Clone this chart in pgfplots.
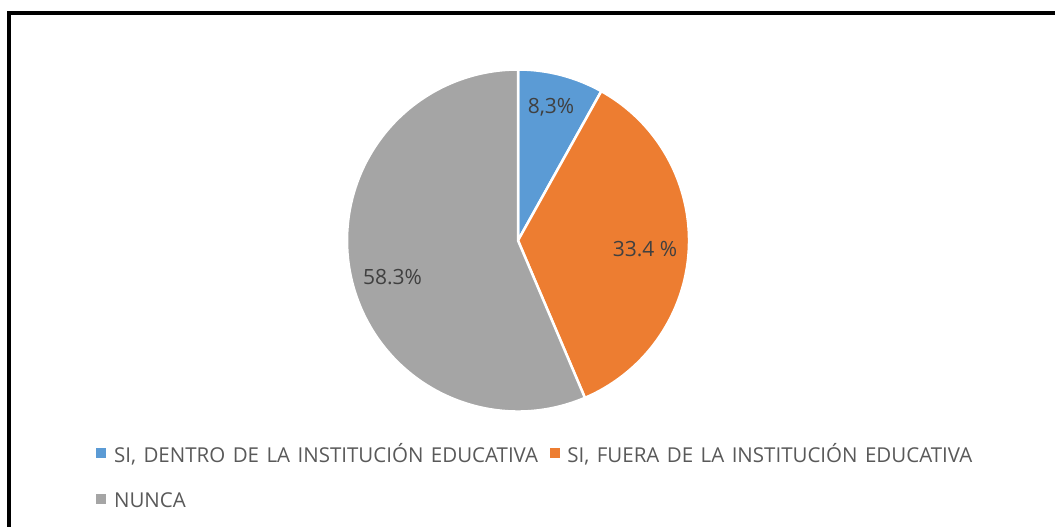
\documentclass[border=0pt]{standalone}
\usepackage{pgfplots}
\pgfplotsset{compat=1.18}
\usepackage{pgfplotstable}
\usepackage{fontspec}
\setmainfont{Open Sans}
\newfontfamily\legfont{Open Sans}[WordSpace=1.4]
\definecolor{cblue}{HTML}{5B9BD5}
\definecolor{corange}{HTML}{ED7D31}
\definecolor{cgray}{HTML}{A5A5A5}
\definecolor{labtext}{HTML}{404040}
\definecolor{legtext}{HTML}{595959}

% slice shares (percent of the circle, as drawn)
\pgfplotstableread{
name   share
dentro 8.1
fuera  35.5
nunca  56.4
}\pietable

\pgfplotstablegetelem{0}{share}\of\pietable \pgfmathsetmacro\sA{\pgfplotsretval}
\pgfplotstablegetelem{1}{share}\of\pietable \pgfmathsetmacro\sB{\pgfplotsretval}
\pgfplotstablegetelem{2}{share}\of\pietable \pgfmathsetmacro\sC{\pgfplotsretval}
\pgfmathsetmacro\aZero{90}
\pgfmathsetmacro\aOne{\aZero-3.6*\sA}
\pgfmathsetmacro\aTwo{\aOne-3.6*\sB}
\pgfmathsetmacro\aThree{\aTwo-3.6*\sC}

\begin{document}
\begin{tikzpicture}
\begin{axis}[
  x=1pt, y=1pt,
  xmin=0, xmax=1055, ymin=0, ymax=527,
  scale only axis,
  at={(0pt,0pt)}, anchor=south west,
  hide axis,
  clip=false,
  legend image code/.code={\fill[#1] (0pt,-0.5pt) rectangle (9pt,8.5pt);},
  legend style={
    at={(axis cs:96,79)}, anchor=north west,
    draw=none, fill=none, inner sep=0pt,
    font=\legfont\fontsize{20.5pt}{24pt}\selectfont, text=legtext,
    row sep=27.7pt,
    nodes={inner sep=0pt, text height=14pt, text depth=4pt},
    /tikz/every odd column/.append style={column sep=8.5pt},
    /tikz/every even column/.append style={column sep=11.5pt},
  },
  legend columns=2,
  legend cell align=left,
]
% pie slices, clockwise from 12 o'clock
\filldraw[fill=cblue, draw=white, line width=2.5pt, line join=round]
  (axis cs:518,286.5) -- ++(\aZero:171pt) arc[start angle=\aZero, end angle=\aOne, radius=171pt] -- cycle;
\filldraw[fill=corange, draw=white, line width=2.5pt, line join=round]
  (axis cs:518,286.5) -- ++(\aOne:171pt) arc[start angle=\aOne, end angle=\aTwo, radius=171pt] -- cycle;
\filldraw[fill=cgray, draw=white, line width=2.5pt, line join=round]
  (axis cs:518,286.5) -- ++(\aTwo:171pt) arc[start angle=\aTwo, end angle=\aThree, radius=171pt] -- cycle;

% data labels
\node[anchor=base, inner sep=0pt, text=labtext, font=\fontsize{21pt}{26pt}\selectfont] at (axis cs:551,413.7) {8,3\%};
\node[anchor=base, inner sep=0pt, text=labtext, font=\fontsize{21pt}{26pt}\selectfont] at (axis cs:645,270) {33.4 \%};
\node[anchor=base, inner sep=0pt, text=labtext, font=\fontsize{21pt}{26pt}\selectfont] at (axis cs:392.5,242) {58.3\%};

% legend
\addlegendimage{cblue}
\addlegendentry{SI, DENTRO DE LA INSTITUCIÓN EDUCATIVA}
\addlegendimage{corange}
\addlegendentry{SI, FUERA DE LA INSTITUCIÓN EDUCATIVA}
\addlegendimage{cgray}
\addlegendentry{NUNCA}

% frame
\draw[line width=3.6pt, black, line join=miter] (axis cs:9,-20) -- (axis cs:9,514) -- (axis cs:1090,514);
\end{axis}
\pgfresetboundingbox
\useasboundingbox (0pt,0pt) rectangle (1055pt,527pt);
\end{tikzpicture}
\end{document}
